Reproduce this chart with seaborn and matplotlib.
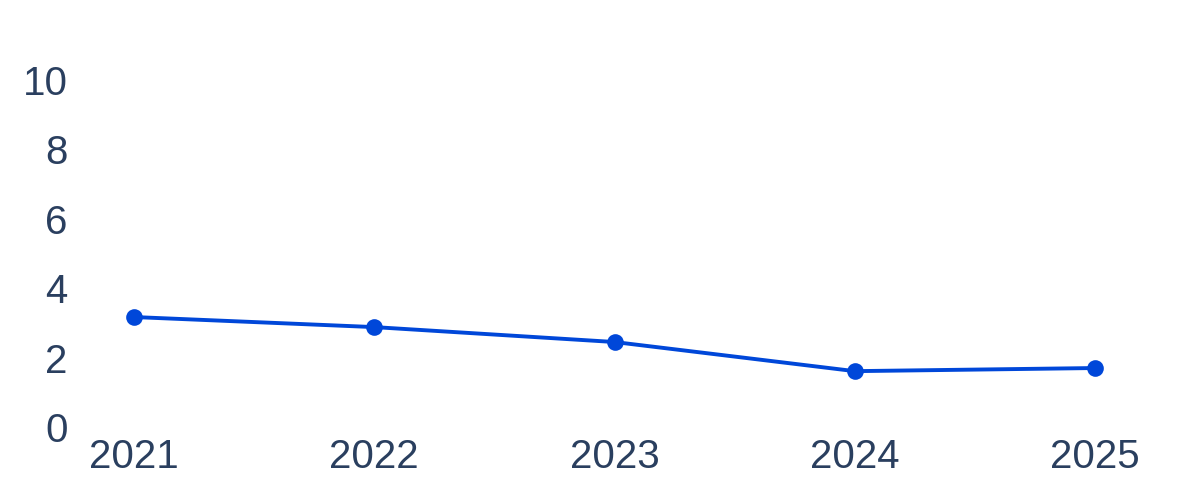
import matplotlib
matplotlib.use("Agg")
import matplotlib.pyplot as plt
import seaborn as sns
import pandas as pd

years = [2021, 2022, 2023, 2024, 2025]
values = [3.17, 2.88, 2.45, 1.61, 1.70]
y_ticks = [0, 2, 4, 6, 8, 10]

df = pd.DataFrame({"year": years, "value": values})

sns.set_style("white")
plt.rcParams['font.family'] = ['Liberation Sans', 'DejaVu Sans']

text_color = "#2a3f5f"
line_color = "#0047d9"

fig = plt.figure(figsize=(12, 5), dpi=100)
ax = fig.add_axes([80 / 1200, 73 / 500, 1070 / 1200, 367 / 500])

sns.lineplot(data=df, x="year", y="value", ax=ax, color=line_color,
             linewidth=2.8, marker="o", markersize=12,
             markeredgewidth=0, clip_on=False)

ax.set_xlim(2020.775, 2025.229)
ax.set_ylim(0, 10.58)
ax.set_xticks(years)
ax.set_xticklabels([str(y) for y in years])
ax.set_yticks(y_ticks)
ax.set_yticklabels([str(t) for t in y_ticks])
ax.tick_params(axis="both", length=0, labelsize=29, labelcolor=text_color)
ax.tick_params(axis="y", pad=9)
ax.tick_params(axis="x", pad=8)
ax.set_xlabel("")
ax.set_ylabel("")
for s in ax.spines.values():
    s.set_visible(False)

fig.savefig("out.png", dpi=100)
